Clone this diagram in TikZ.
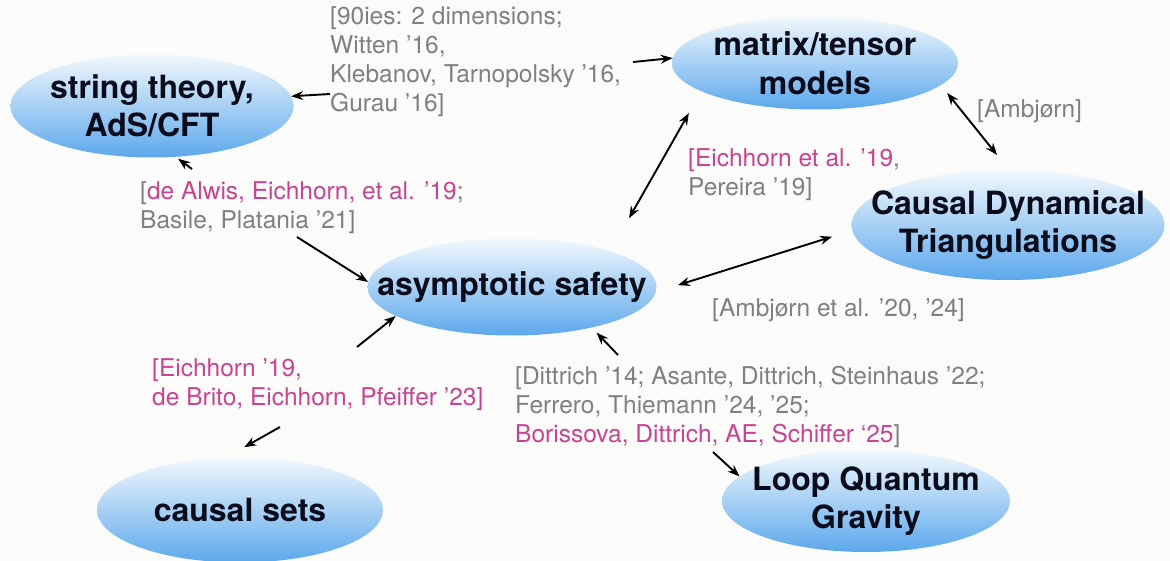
\documentclass[tikz,border=0pt]{standalone}
\usepackage{fontspec}
\setmainfont{TeX Gyre Heros}
\usepackage{xcolor}
\definecolor{refgrey}{RGB}{128, 128, 128}
\definecolor{refpink}{RGB}{200, 68, 145}
\definecolor{bubbletop}{RGB}{242, 248, 253}
\definecolor{bubblebottom}{RGB}{92, 168, 236}
\definecolor{inkdark}{RGB}{10, 12, 28}
\definecolor{paper}{RGB}{251, 251, 249}
\usetikzlibrary{positioning, shapes.geometric, arrows.meta}

\begin{document}
\begin{tikzpicture}[x=1pt, y=-1pt, >={Stealth[length=12pt, width=9pt]},
    bubble/.style={ellipse, top color=bubbletop, bottom color=bubblebottom, draw=none, inner sep=0pt},
    bubbletext/.style={font=\bfseries\fontsize{32}{38.5}\selectfont, text=inkdark, align=center, inner sep=0pt},
    refnote/.style={font=\fontsize{24.5}{29}\selectfont, text=refgrey, align=left, anchor=north west, inner sep=0pt},
    link/.style={line width=1.9pt, black}]
    \useasboundingbox (0,0) rectangle (1170,561);
    \fill [paper] (0,0) rectangle (1170,561);

    % Approaches
    \node [bubble, minimum width=283pt, minimum height=103pt, label={[bubbletext]center:{string theory,\\AdS/CFT}}] (string) at (152,106) {};
    \node [bubble, minimum width=286pt, minimum height=93pt, label={[bubbletext]center:{matrix/tensor\\models}}] (matrix) at (815,63) {};
    \node [bubble, minimum width=313pt, minimum height=110pt, label={[bubbletext]center:{Causal Dynamical\\Triangulations}}] (cdt) at (1008,225) {};
    \node [bubble, minimum width=289pt, minimum height=97pt, label={[bubbletext]center:{asymptotic safety}}] (asym) at (512,287) {};
    \node [bubble, minimum width=286pt, minimum height=105pt, label={[bubbletext]center:{causal sets}}] (causal) at (240,510) {};
    \node [bubble, minimum width=288pt, minimum height=102pt, label={[bubbletext]center:{Loop Quantum\\Gravity}}] (lqg) at (866,501) {};

    % References
    \node [refnote] (ref90) at (330,6) {[90ies: 2 dimensions;\\Witten ’16,\\Klebanov, Tarnopolsky ’16,\\Gurau ’16]};
    \node [refnote] (refamb) at (977,99) {[Ambjørn]};
    \node [refnote] (refeich) at (688,148) {{\color{refpink}[Eichhorn et al. ’19},\\Pereira ’19]};
    \node [refnote] (refambal) at (712,298) {[Ambjørn et al. ’20, ’24]};
    \node [refnote] (refalwis) at (140,181) {[{\color{refpink}de Alwis, Eichhorn, et al. ’19};\\Basile, Platania ’21]};
    \node [refnote, text=refpink] (refbrito) at (152,358) {[Eichhorn ’19,\\de Brito, Eichhorn, Pfeiffer ’23]};
    \node [refnote] (refdit) at (515,366) {[Dittrich ’14; Asante, Dittrich, Steinhaus ’22;\\Ferrero, Thiemann ’24, ’25;\\{\color{refpink}Borissova, Dittrich, AE, Schiffer ‘25}]};

    % Arrow tails
    \coordinate (ref90-st) at (330,94);
    \coordinate (ref90-mt) at (633,62);
    \coordinate (refalwis-st) at (192,169);
    \coordinate (refalwis-as) at (297,237);
    \coordinate (refbrito-as) at (357,347);
    \coordinate (refbrito-cs) at (280,427);
    \coordinate (refdit-as) at (618,355);
    \coordinate (refdit-lq) at (713,452);

    % Connections
    \draw [link, ->] (ref90-st) -- (string.4);
    \draw [link, ->] (ref90-mt) -- (matrix.178);
    \draw [link, <->, shorten <=38pt, shorten >=25pt] (asym.20) -- (matrix.194);
    \draw [link, <->, shorten <=10pt, shorten >=19pt] (matrix.-10) -- (cdt.89);
    \draw [link, <->, shorten <=23pt, shorten >=21pt] (asym.-2) -- (cdt.182);
    \draw [link, ->, shorten >=3pt] (refalwis-st) -- (string.-65);
    \draw [link, ->] (refalwis-as) -- (asym.178);
    \draw [link, ->] (refbrito-as) -- (asym.194);
    \draw [link, ->, shorten >=21pt] (refbrito-cs) -- (causal.105);
    \draw [link, ->, shorten >=7pt] (refdit-as) -- (asym.-27);
    \draw [link, ->] (refdit-lq) -- (lqg.169);
\end{tikzpicture}
\end{document}
